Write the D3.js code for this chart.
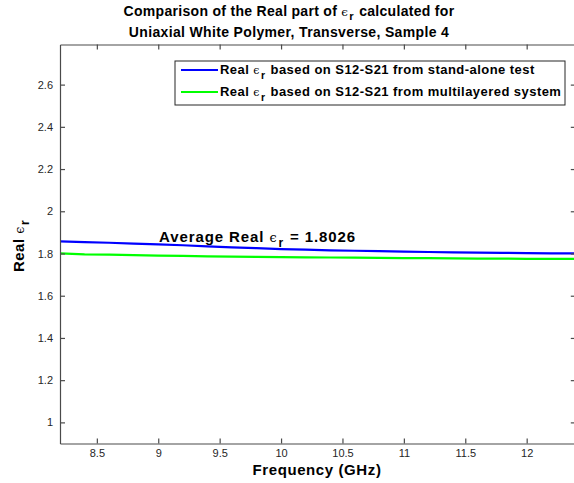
<!DOCTYPE html>
<html>
<head>
<meta charset="utf-8">
<script src="https://cdn.jsdelivr.net/npm/d3@7"></script>
<style>
  html, body { margin: 0; padding: 0; background: #fff; }
  svg { display: block; font-family: "Liberation Sans", Arial, Helvetica, sans-serif; }
</style>
</head>
<body>
<svg id="chart" width="574" height="483"></svg>
<script>
// Frequency samples across the X band (GHz)
const frequency = [8.2, 8.4, 8.6, 8.8, 9.0, 9.2, 9.4, 9.6, 9.8, 10.0, 10.2,
                   10.4, 10.6, 10.8, 11.0, 11.2, 11.4, 11.6, 11.8, 12.0, 12.2, 12.4];
// Real permittivity from the stand-alone S12-S21 measurement
const standAlone = [1.857, 1.854, 1.851, 1.847, 1.843, 1.839, 1.834, 1.829, 1.825, 1.821, 1.818,
                    1.815, 1.813, 1.811, 1.809, 1.807, 1.805, 1.804, 1.803, 1.802, 1.801, 1.801];
// Real permittivity from the multilayered-system S12-S21 measurement
const multilayered = [1.801, 1.796, 1.795, 1.792, 1.790, 1.789, 1.786, 1.785, 1.784, 1.783, 1.782,
                      1.781, 1.780, 1.779, 1.778, 1.778, 1.777, 1.776, 1.776, 1.775, 1.775, 1.774];
const averageReal = "1.8026";

const xTicks = [8.5, 9, 9.5, 10, 10.5, 11, 11.5, 12];
const xTickLabels = ["8.5", "9", "9.5", "10", "10.5", "11", "11.5", "12"];
const yTicks = [1, 1.2, 1.4, 1.6, 1.8, 2, 2.2, 2.4, 2.6];
const yTickLabels = ["1", "1.2", "1.4", "1.6", "1.8", "2", "2.2", "2.4", "2.6"];

const seriesNames = ["stand-alone test", "multilayered system"];
const seriesColors = ["#0000ff", "#00ff00"];

const svg = d3.select("#chart");
const plotLeft = 60, plotRight = 575.8, plotTop = 44.5, plotBottom = 443.5;
const axisColor = "#4a4a4a";

const x = d3.scaleLinear().domain([8.2, 12.4]).range([plotLeft, plotRight]);
const y = d3.scaleLinear().domain([0.9, 2.79]).range([plotBottom, plotTop]);

const plot = svg.append("g");

// Data lines
const line = d3.line().x((d, i) => x(frequency[i])).y(d => y(d));
[standAlone, multilayered].forEach((vals, k) => {
  plot.append("path")
    .datum(vals)
    .attr("fill", "none")
    .attr("stroke", seriesColors[k])
    .attr("stroke-width", 2.2)
    .attr("stroke-linejoin", "round")
    .attr("d", line);
});

// Axes (inward ticks, boxed)
const tickLen = 5;
const fmtX = v => xTickLabels[xTicks.indexOf(v)];
const fmtY = v => yTickLabels[yTicks.indexOf(v)];

const axB = svg.append("g").attr("transform", `translate(0,${plotBottom})`)
  .call(d3.axisBottom(x).tickValues(xTicks).tickFormat(fmtX).tickSizeInner(-tickLen).tickSizeOuter(0).tickPadding(6));
const axT = svg.append("g").attr("transform", `translate(0,${plotTop})`)
  .call(d3.axisTop(x).tickValues(xTicks).tickFormat("").tickSizeInner(-tickLen).tickSizeOuter(0));
const axL = svg.append("g").attr("transform", `translate(${plotLeft},0)`)
  .call(d3.axisLeft(y).tickValues(yTicks).tickFormat(fmtY).tickSizeInner(-tickLen).tickSizeOuter(0).tickPadding(7));
const axR = svg.append("g").attr("transform", `translate(${plotRight},0)`)
  .call(d3.axisRight(y).tickValues(yTicks).tickFormat("").tickSizeInner(-tickLen).tickSizeOuter(0));

[axB, axT, axL, axR].forEach(a => {
  a.select(".domain").attr("stroke", axisColor).attr("stroke-width", 1.2);
  a.selectAll(".tick line").attr("stroke", axisColor).attr("stroke-width", 1.2);
  a.selectAll(".tick text").attr("fill", "#262626")
    .style("font-family", '"Liberation Sans", Arial, sans-serif').style("font-size", "11px");
});

// Helper to write "Real ε_r" style text with a subscript
function epsText(sel, before, after, opts) {
  const t = sel.append("text")
    .attr("x", opts.x).attr("y", opts.y)
    .attr("text-anchor", opts.anchor || "start")
    .attr("font-weight", "bold")
    .attr("font-size", opts.size + "px")
    .attr("letter-spacing", (opts.spacing || 0) + "px")
    .attr("fill", "#000");
  if (opts.transform) t.attr("transform", opts.transform);
  t.append("tspan").text(before);
  t.append("tspan").attr("font-family", '"DejaVu Serif", "Liberation Serif", serif')
    .attr("font-weight", "normal").attr("font-size", (opts.size * 0.85) + "px").text("\u03f5");
  t.append("tspan").attr("dx", 1).attr("dy", opts.size * 0.35).attr("font-size", (opts.size * 0.8) + "px").text("r");
  t.append("tspan").attr("dx", 1).attr("dy", -opts.size * 0.35).text(after);
  return t;
}

// Title
const titleX = 289;
epsText(svg, "Comparison of the Real part of ", " calculated for",
  { x: titleX, y: 15.5, anchor: "middle", size: 14, spacing: 0.3 });
svg.append("text").attr("x", titleX).attr("y", 36.5).attr("text-anchor", "middle")
  .attr("font-weight", "bold").attr("font-size", "14px").attr("letter-spacing", "0.35px")
  .attr("fill", "#000")
  .text("Uniaxial White Polymer, Transverse, Sample 4");

// Axis labels
svg.append("text").attr("x", 317).attr("y", 475).attr("text-anchor", "middle")
  .attr("font-weight", "bold").attr("font-size", "15px").attr("letter-spacing", "0.6px")
  .attr("fill", "#000")
  .text("Frequency (GHz)");
epsText(svg, "Real ", "", { x: 0, y: 0, anchor: "middle", size: 15, spacing: 0.5,
  transform: "translate(24,246) rotate(-90)" });

// Average annotation
epsText(svg, "Average Real ", " = " + averageReal, { x: 159, y: 242, size: 15, spacing: 0.9 });

// Legend
const legend = svg.append("g");
legend.append("rect").attr("x", 175).attr("y", 61).attr("width", 390).attr("height", 44)
  .attr("fill", "#fff").attr("stroke", "#262626").attr("stroke-width", 1);
seriesNames.forEach((name, k) => {
  const ly = 70 + k * 22;
  legend.append("line").attr("x1", 181).attr("x2", 218).attr("y1", ly).attr("y2", ly)
    .attr("stroke", seriesColors[k]).attr("stroke-width", 2.2);
  epsText(legend, "Real ", " based on S12-S21 from " + name, { x: 220, y: ly + 4, size: 13, spacing: 0.45 });
});
</script>
</body>
</html>
